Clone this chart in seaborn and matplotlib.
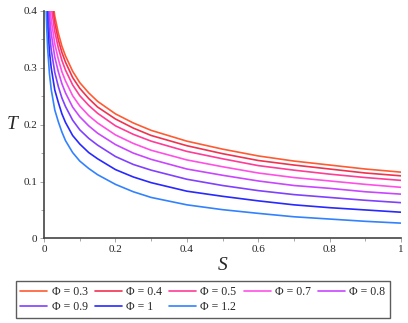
import matplotlib
matplotlib.use("Agg")
import matplotlib.pyplot as plt
import pandas as pd
import seaborn as sns
from matplotlib.ticker import MultipleLocator

# values (T vs S for each Phi)
S = [0.005, 0.0075, 0.01, 0.015, 0.02, 0.03, 0.04, 0.05, 0.06, 0.08, 0.1, 0.125,
     0.15, 0.2, 0.25, 0.3, 0.4, 0.5, 0.6, 0.7, 0.8, 0.9, 1.0]

phi_labels = ["0.3", "0.4", "0.5", "0.7", "0.8", "0.9", "1", "1.2"]

T_03 = [0.625, 0.565, 0.525, 0.470, 0.437, 0.391, 0.361, 0.338, 0.321, 0.294, 0.274, 0.256,
        0.241, 0.219, 0.203, 0.190, 0.171, 0.157, 0.145, 0.136, 0.129, 0.122, 0.1165]
T_04 = [0.610, 0.550, 0.511, 0.457, 0.424, 0.379, 0.349, 0.327, 0.310, 0.283, 0.264, 0.246,
        0.231, 0.210, 0.194, 0.181, 0.163, 0.149, 0.137, 0.129, 0.122, 0.115, 0.110]
T_05 = [0.591, 0.533, 0.494, 0.440, 0.408, 0.364, 0.335, 0.313, 0.296, 0.270, 0.251, 0.234,
        0.220, 0.198, 0.183, 0.171, 0.153, 0.140, 0.128, 0.120, 0.113, 0.107, 0.102]
T_07 = [0.564, 0.507, 0.469, 0.417, 0.385, 0.342, 0.315, 0.293, 0.277, 0.251, 0.233, 0.216,
        0.203, 0.182, 0.167, 0.155, 0.138, 0.126, 0.115, 0.107, 0.101, 0.095, 0.0898]
T_08 = [0.536, 0.480, 0.442, 0.392, 0.361, 0.319, 0.293, 0.272, 0.256, 0.231, 0.214, 0.198,
        0.185, 0.165, 0.150, 0.139, 0.122, 0.111, 0.101, 0.093, 0.088, 0.082, 0.0778]
T_09 = [0.502, 0.448, 0.411, 0.362, 0.332, 0.292, 0.267, 0.247, 0.232, 0.208, 0.191, 0.176,
        0.164, 0.144, 0.130, 0.120, 0.104, 0.093, 0.084, 0.077, 0.072, 0.067, 0.0628]
T_10 = [0.464, 0.412, 0.376, 0.329, 0.300, 0.261, 0.239, 0.219, 0.204, 0.181, 0.166, 0.151,
        0.140, 0.121, 0.108, 0.098, 0.083, 0.074, 0.066, 0.059, 0.054, 0.050, 0.046]
T_12 = [0.420, 0.370, 0.335, 0.290, 0.262, 0.226, 0.205, 0.187, 0.172, 0.151, 0.136, 0.123,
        0.112, 0.095, 0.082, 0.072, 0.059, 0.0505, 0.044, 0.038, 0.034, 0.030, 0.0268]

colors = ["#ff5a32", "#f03250", "#ff3c96", "#ff50e6", "#c846ff", "#8040ff", "#2828ff", "#3282ff"]

series = [T_03, T_04, T_05, T_07, T_08, T_09, T_10, T_12]
rows = []
for lab, vals in zip(phi_labels, series):
    for s, t in zip(S, vals):
        rows.append({"S": s, "T": t, "phi": f"Φ = {lab}"})
df = pd.DataFrame(rows)

sns.set_style("white")
plt.rcParams["font.family"] = ["Liberation Serif", "DejaVu Serif"]

fig = plt.figure(figsize=(4.08, 3.23), dpi=100)
ax = fig.add_axes([0.108, 0.262, 0.875, 0.704])

hue_order = [f"Φ = {l}" for l in phi_labels]
sns.lineplot(data=df, x="S", y="T", hue="phi", hue_order=hue_order,
             palette=colors, estimator=None, sort=False, linewidth=1.2, ax=ax)

ax.set_xlim(0, 1)
ax.set_ylim(0, 0.4)
ax.xaxis.set_minor_locator(MultipleLocator(0.1))
ax.yaxis.set_minor_locator(MultipleLocator(0.05))
ax.set_xticks([0, 0.2, 0.4, 0.6, 0.8, 1.0])
ax.set_xticklabels(["0", "0.2", "0.4", "0.6", "0.8", "1"])
ax.set_yticks([0, 0.1, 0.2, 0.3, 0.4])
ax.set_yticklabels(["0", "0.1", "0.2", "0.3", "0.4"])
ax.tick_params(which="major", length=3, width=0.6, color="#999999", labelsize=8, pad=2)
ax.tick_params(which="minor", length=2, width=0.6, color="#999999")
ax.tick_params(axis="both", which="both", bottom=True, left=True)

for side in ["top", "right"]:
    ax.spines[side].set_visible(False)
for side in ["left", "bottom"]:
    ax.spines[side].set_color("#444444")
    ax.spines[side].set_linewidth(1.2)

ax.set_xlabel("S", fontsize=14, fontstyle="italic", labelpad=2)
ax.set_ylabel("T", fontsize=14, fontstyle="italic", rotation=0, labelpad=8, va="center")

# legend filled row by row like the reference (matplotlib fills columns)
handles, labels = ax.get_legend_handles_labels()
ax.get_legend().remove()
order = [0, 5, 1, 6, 2, 7, 3, 4]
handles = [handles[i] for i in order]
labels = [labels[i] for i in order]
leg = fig.legend(handles, labels, ncol=5, loc="upper center", bbox_to_anchor=(0.497, 0.137),
                 frameon=True, fancybox=False, fontsize=8.5, handlelength=2.3,
                 handletextpad=0.35, columnspacing=0.6, borderpad=0.4, labelspacing=0.3,
                 borderaxespad=0.2)
leg.get_frame().set_edgecolor("#333333")
leg.get_frame().set_linewidth(1.0)

fig.savefig("out.png", dpi=100)
